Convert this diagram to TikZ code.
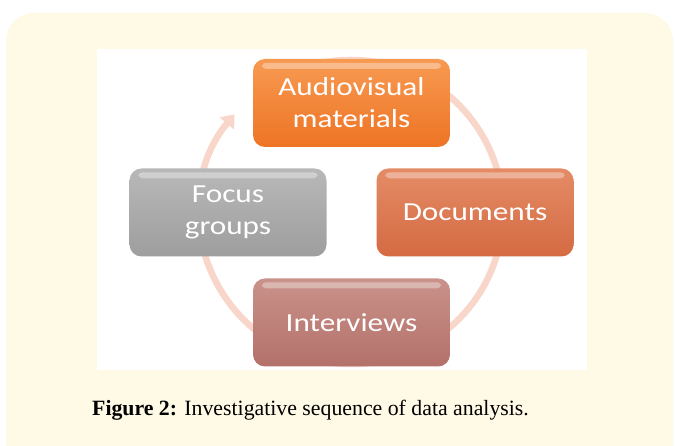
\documentclass[tikz,border=0pt]{standalone}
\usepackage{fontspec}
\usetikzlibrary{arrows.meta}
\newfontfamily\boxfont[FakeStretch=1.2]{Carlito}
\newfontfamily\capfont{Liberation Serif}
\definecolor{cream}{HTML}{FFFAE6}
\definecolor{ringcol}{HTML}{F8D6CA}
\definecolor{avtop}{HTML}{F79A52}
\definecolor{avbot}{HTML}{EE7424}
\definecolor{doctop}{HTML}{E48C66}
\definecolor{docbot}{HTML}{D46A42}
\definecolor{ivtop}{HTML}{C9928A}
\definecolor{ivbot}{HTML}{B3716A}
\definecolor{fgtop}{HTML}{B8B8B8}
\definecolor{fgbot}{HTML}{9E9E9E}
\tikzset{
  stage/.style={minimum width=197pt, minimum height=88pt, rounded corners=12pt,
    text=white, align=center, inner sep=0pt,
    font=\boxfont\fontsize{26}{32}\selectfont},
  gloss/.style={white, opacity=.35, rounded corners=4pt}
}
\newcommand{\glossbar}[1]{%
  \fill[gloss] ([xshift=9pt,yshift=-4pt]#1.north west) rectangle ([xshift=-9pt,yshift=-10pt]#1.north east);}
\begin{document}
\begin{tikzpicture}[x=1pt,y=1pt]
\useasboundingbox (0,0) rectangle (675,446);
% page panel and white figure area
\fill[cream, rounded corners=28pt] (6,-30) rectangle (673,433);
\fill[white] (97,76) rectangle (587,397);
% cycle ring with arrow
\coordinate (c) at (351,234);
\draw[ringcol, line width=6.5pt, -{Triangle[width=18pt,length=12pt]}]
  (c) ++(128:152) arc[start angle=128, end angle=-220, radius=152];
% stages
\node[stage, top color=avtop, bottom color=avbot] (av) at (351.5,343) {Audiovisual\\materials};
\node[stage, top color=doctop, bottom color=docbot] (doc) at (475,233.5) {Documents};
\node[stage, top color=ivtop, bottom color=ivbot] (iv) at (351.5,123.5) {Interviews};
\node[stage, top color=fgtop, bottom color=fgbot] (fg) at (228,233.5) {Focus\\groups};
\glossbar{av}\glossbar{doc}\glossbar{iv}\glossbar{fg}
% caption
\node[anchor=base west, inner sep=0pt, font=\capfont\fontsize{21.8}{26}\selectfont] (cap) at (92,30)
  {\textbf{Figure 2:} Investigative sequence of data analysis.};
\end{tikzpicture}
\end{document}
